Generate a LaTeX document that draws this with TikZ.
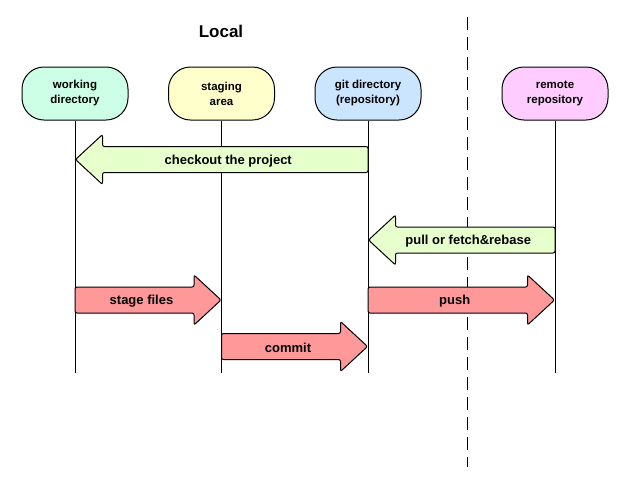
\documentclass[tikz,border=0pt]{standalone}
\usepackage{fontspec}
\setmainfont{Liberation Sans}
\definecolor{wdfill}{HTML}{CCFFE6}
\definecolor{safill}{HTML}{FFFFCC}
\definecolor{gdfill}{HTML}{CCE5FF}
\definecolor{rrfill}{HTML}{FFCCFF}
\definecolor{grarrow}{HTML}{E6FFCC}
\definecolor{rdarrow}{HTML}{FF9999}
\tikzset{
  box/.style={draw=black, line width=1pt, rounded corners=22pt, minimum width=106pt,
    minimum height=53pt, align=center, inner sep=2pt,
    font=\fontsize{11.5}{15}\selectfont\bfseries},
  lifeline/.style={draw=black, line width=1pt},
  sepline/.style={draw=black, line width=1.5pt, dash pattern=on 13pt off 7pt},
  fatarrowstyle/.style={draw=black, line width=1pt, rounded corners=2pt},
  arrowlabel/.style={font=\fontsize{13}{15}\selectfont\bfseries, inner sep=1pt},
  titlestyle/.style={font=\fontsize{17}{20}\selectfont\bfseries}
}
\newcommand\fatarrow[6]{%
  \pgfmathsetmacro\fa{#1}\pgfmathsetmacro\fb{#2}%
  \pgfmathsetmacro\fd{sign(\fb-\fa)}%
  \pgfmathsetmacro\fh{\fb-27*\fd}%
  \pgfmathsetmacro\fm{(\fa+\fb-13*\fd)/2}%
  \draw[fatarrowstyle, fill=#4] (\fa,#3-13) -- (\fh,#3-13) -- (\fh,#3-25) -- (\fb,#3)
     -- (\fh,#3+25) -- (\fh,#3+13) -- (\fa,#3+13) -- cycle;
  \node[arrowlabel] (#6) at (\fm,#3+1.5) {#5};
}
\begin{document}
\begin{tikzpicture}[x=1pt,y=-1pt]
\useasboundingbox (0,0) rectangle (644,483);
\node[titlestyle] (local) at (221,31) {Local};
\node[box, fill=wdfill] (wd) at (75,93.5) {working\\directory};
\node[box, fill=safill] (sa) at (221.5,93.5) {staging\\area};
\node[box, fill=gdfill] (gd) at (368,93.5) {git directory\\(repository)};
\node[box, fill=rrfill] (rr) at (555,93.5) {remote\\repository};
\coordinate (wdb) at (75,373);
\coordinate (sab) at (221.5,373);
\coordinate (gdb) at (368,373);
\coordinate (rrb) at (555,373);
\coordinate (dtop) at (467.5,17);
\coordinate (dbot) at (467.5,467);
\draw[lifeline] (wd.south) -- (wdb);
\draw[lifeline] (sa.south) -- (sab);
\draw[lifeline] (gd.south) -- (gdb);
\draw[lifeline] (rr.south) -- (rrb);
\draw[sepline] (dtop) -- (dbot);
\fatarrow{368}{75.5}{159.5}{grarrow}{checkout the project}{l1}
\fatarrow{555}{368.5}{240}{grarrow}{pull or fetch\&rebase}{l2}
\fatarrow{75}{221}{300}{rdarrow}{stage files}{l3}
\fatarrow{368}{554.5}{300}{rdarrow}{push}{l4}
\fatarrow{221.5}{367.5}{346.5}{rdarrow}{commit}{l5}
\end{tikzpicture}
\end{document}
